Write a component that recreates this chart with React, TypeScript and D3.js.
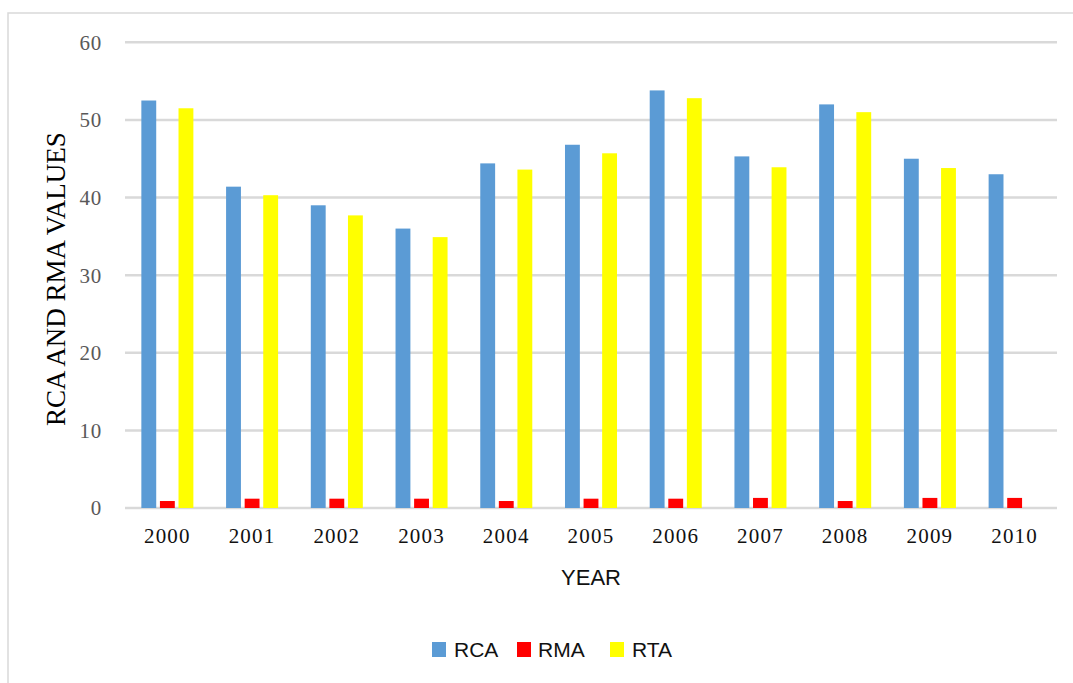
import React from "react";
import * as d3 from "d3";

const years = ["2000","2001","2002","2003","2004","2005","2006","2007","2008","2009","2010"];
const seriesNames = ["RCA","RMA","RTA"];
const rca = [52.5, 41.4, 39.0, 36.0, 44.4, 46.8, 53.8, 45.3, 52.0, 45.0, 43.0];
const rma = [0.9, 1.2, 1.2, 1.2, 0.9, 1.2, 1.2, 1.3, 0.9, 1.3, 1.3];
const rta = [51.5, 40.3, 37.7, 34.9, 43.6, 45.7, 52.8, 43.9, 51.0, 43.8, 0];
const yTicks = [0, 10, 20, 30, 40, 50, 60];
const colors = ["#5B9BD5", "#FF0000", "#FFFF00"];

export default function App() {
  const W = 1073, H = 683;
  const left = 125, right = 1057, top = 42.3, bottom = 508;
  const data = [rca, rma, rta];
  const x0 = d3.scaleBand<string>().domain(years).range([left, right]).paddingInner(0.386).paddingOuter(0.193);
  const x1 = d3.scaleBand<string>().domain(seriesNames).range([0, x0.bandwidth()]).paddingInner(0.2);
  const y = d3.scaleLinear().domain([0, 60]).range([bottom, top]);
  const serif = "'Liberation Serif', 'Times New Roman', serif";
  const sans = "'Liberation Sans', Arial, sans-serif";
  const legendItems = [
    { name: "RCA", x: 432, tx: 454 },
    { name: "RMA", x: 517, tx: 538 },
    { name: "RTA", x: 610, tx: 632 },
  ];
  return (
    <svg width={W} height={H} style={{ position: "absolute", left: 0, top: 0, background: "#fff" }}>
      <rect x={8} y={13} width={W + 10} height={H + 10} fill="#fff" stroke="#D9D9D9" strokeWidth={1.5} />
      {yTicks.map((t) => (
        <g key={t}>
          <line x1={left} x2={right} y1={y(t)} y2={y(t)} stroke="#D9D9D9" strokeWidth={2.5} />
          <text x={102} y={y(t)} dy="0.35em" textAnchor="end" fontFamily={serif} fontSize={21} fill="#595959" letterSpacing={0.8}>{t}</text>
        </g>
      ))}
      {years.map((yr, i) => (
        <g key={yr}>
          {seriesNames.map((s, j) => {
            const v = data[j][i];
            if (!v) return null;
            return (
              <rect key={s} x={(x0(yr) as number) + (x1(s) as number)} y={y(v)} width={x1.bandwidth()} height={y(0) - y(v)} fill={colors[j]} />
            );
          })}
          <text x={(x0(yr) as number) + x0.bandwidth() / 2} y={543} textAnchor="middle" fontFamily={serif} fontSize={21} fill="#111" letterSpacing={1.2}>{yr}</text>
        </g>
      ))}
      <text transform={`translate(65, ${(top + bottom) / 2 + 4}) rotate(-90)`} textAnchor="middle" fontFamily={serif} fontSize={27} fill="#000">RCA AND RMA VALUES</text>
      <text x={(left + right) / 2} y={585} textAnchor="middle" fontFamily={sans} fontSize={22} fill="#111">YEAR</text>
      {legendItems.map((l, i) => (
        <g key={l.name}>
          <rect x={l.x} y={642} width={14} height={15} fill={colors[i]} />
          <text x={l.tx} y={657} fontFamily={sans} fontSize={21} fill="#111">{l.name}</text>
        </g>
      ))}
    </svg>
  );
}
